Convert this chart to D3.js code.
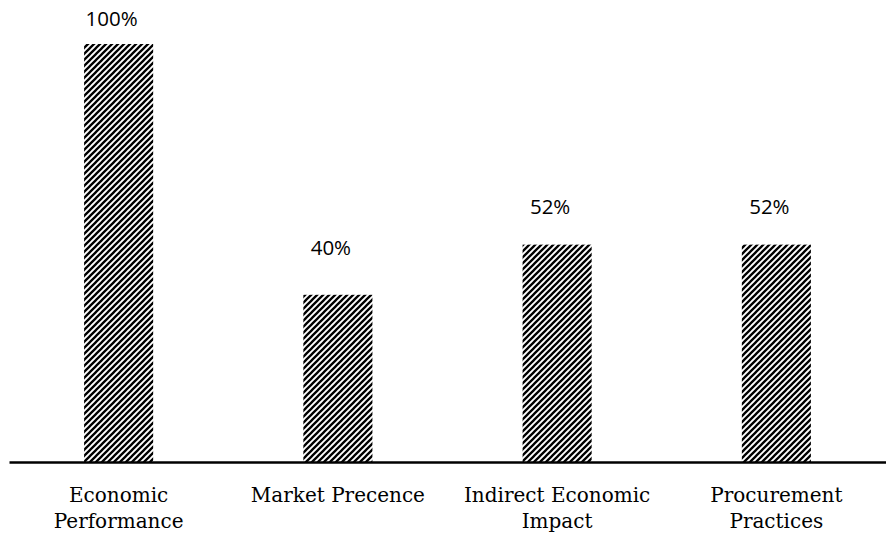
<!DOCTYPE html>
<html>
<head>
<meta charset="utf-8">
<script src="https://cdn.jsdelivr.net/npm/d3@7"></script>
<style>
  body { margin: 0; background: #fff; }
  svg { display: block; }
</style>
</head>
<body>
<svg id="chart"></svg>
<script>
// chart values
const categories = [
    ["Economic", "Performance"],
    ["Market Precence"],
    ["Indirect Economic", "Impact"],
    ["Procurement", "Practices"]
];
const values = [1.00, 0.40, 0.52, 0.52];
const valueLabels = ["100%", "40%", "52%", "52%"];

const width = 886, height = 535;
const margin = { top: 44, right: 0, bottom: 73, left: 9 };

// the data labels sit at uneven heights above the bars in the original
const labelGap = [18, 40, 31, 31];

function drawHatchedBars() {
    const svg = d3.select("#chart")
        .attr("width", width)
        .attr("height", height);

    const baseY = height - margin.bottom;

    const x = d3.scaleBand()
        .domain(d3.range(values.length))
        .range([margin.left, width - margin.right])
        .paddingInner(0.685)
        .paddingOuter(0.3425);

    const y = d3.scaleLinear()
        .domain([0, 1])
        .range([baseY, margin.top]);

    // upward diagonal hatch, "/" stripes
    const p = 6;
    const pat = svg.append("defs").append("pattern")
        .attr("id", "hatch")
        .attr("patternUnits", "userSpaceOnUse")
        .attr("width", p)
        .attr("height", p);
    pat.append("rect")
        .attr("width", p).attr("height", p)
        .attr("fill", "#fff");
    pat.append("path")
        .attr("d", `M0,${p} L${p},0 M${-p / 4},${p / 4} L${p / 4},${-p / 4} M${p * 3 / 4},${p * 5 / 4} L${p * 5 / 4},${p * 3 / 4}`)
        .attr("stroke", "#000")
        .attr("stroke-width", 2.3)
        .attr("stroke-linecap", "square");

    svg.append("g")
        .selectAll("rect")
        .data(values)
        .join("rect")
        .attr("x", (d, i) => x(i))
        .attr("y", d => y(d))
        .attr("width", x.bandwidth())
        .attr("height", d => baseY - y(d))
        .attr("fill", "url(#hatch)");

    // value labels
    svg.append("g")
        .selectAll("text")
        .data(values)
        .join("text")
        .attr("x", (d, i) => x(i) + x.bandwidth() / 2 - 7)
        .attr("y", (d, i) => y(d) - labelGap[i])
        .attr("text-anchor", "middle")
        .attr("font-family", "'Open Sans', sans-serif")
        .attr("font-size", "20.5px")
        .attr("fill", "#000")
        .text((d, i) => valueLabels[i]);

    // x axis
    const xAxis = svg.append("g")
        .attr("transform", `translate(0,${baseY})`)
        .call(d3.axisBottom(x).tickSize(0).tickFormat(""));
    xAxis.select(".domain")
        .attr("stroke", "#000")
        .attr("stroke-width", 2.5);

    const cat = svg.append("g")
        .selectAll("text")
        .data(categories)
        .join("text")
        .attr("x", (d, i) => x(i) + x.bandwidth() / 2)
        .attr("y", baseY + 40)
        .attr("text-anchor", "middle")
        .attr("font-family", "'DejaVu Serif', serif")
        .attr("font-size", "20px")
        .attr("fill", "#000");
    cat.selectAll("tspan")
        .data(d => d)
        .join("tspan")
        .attr("x", function () { return this.parentNode.getAttribute("x"); })
        .attr("dy", (d, j) => j === 0 ? 0 : 26)
        .text(d => d);
}

drawHatchedBars();
</script>
</body>
</html>
